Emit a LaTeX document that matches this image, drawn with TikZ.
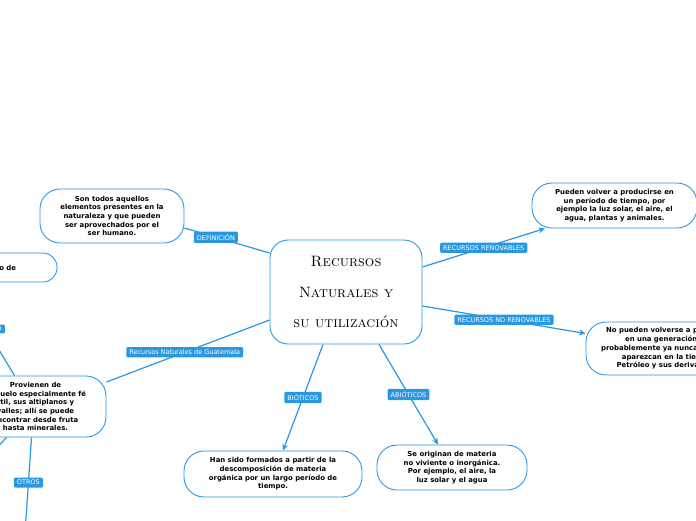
\documentclass[tikz,border=0pt]{standalone}
\usepackage{fontspec}
\setsansfont{DejaVu Sans}
\usetikzlibrary{shapes,arrows,arrows.meta}
\definecolor{mmblue}{RGB}{41,152,225}

\begin{document}
\begin{tikzpicture}[x=1pt,y=-1pt]
\tikzset{
  idea/.style={draw=mmblue, line width=0.9pt, rounded corners=20pt, fill=white,
    align=center, inner sep=0pt,
    font=\sffamily\bfseries\fontsize{6.9}{8.7}\selectfont},
  tag/.style={fill=mmblue, text=white, rounded corners=1.2pt, inner xsep=3pt,
    inner ysep=2.6pt, font=\sffamily\fontsize{6.5}{7}\selectfont},
  link/.style={draw=mmblue, line width=1.2pt},
  arr/.style={link, -{Stealth[length=6.5pt,width=6pt]}}
}
\clip (0,0) rectangle (696,520);
\useasboundingbox (0,0) rectangle (696,520);

% ideas
\node[idea, minimum width=152pt, minimum height=104pt, rounded corners=18pt,
  font=\scshape\fontsize{15}{30.5}\selectfont] (topic) at (346,292)
  {Recursos\\Naturales y\\su utilización};
\node[idea, minimum width=144pt, minimum height=54pt] (def) at (112,216)
  {Son todos aquellos\\elementos presentes en la\\naturaleza y que pueden\\ser aprovechados por el\\ser humano.};
\node[idea, minimum width=165pt, minimum height=45pt] (renov) at (614.5,205.5)
  {Pueden volver a producirse en\\un período de tiempo, por\\ejemplo la luz solar, el aire, el\\agua, plantas y animales.};
\node[idea, minimum width=160pt, minimum height=53pt] (norenov) at (666,348.5)
  {No pueden volverse a producir\\en una generación, y\\probablemente ya nunca vuelvan\\aparezcan en la tierra.\\Petróleo y sus derivados.};
\node[idea, minimum width=178pt, minimum height=46pt] (bio) at (273,474)
  {Han sido formados a partir de la\\descomposición de materia\\orgánica por un largo período de\\tiempo.};
\node[idea, minimum width=150pt, minimum height=45pt] (abio) at (452,467.5)
  {Se originan de materia\\no viviente o inorgánica.\\Por ejemplo, el aire, la\\luz solar y el agua};
\node[idea, minimum width=141pt, minimum height=61pt] (prov) at (35.5,406.5)
  {Provienen de\\su suelo especialmente fé\\rtil, sus altiplanos y\\valles; allí se puede\\encontrar desde fruta\\hasta minerales.};
\node[idea, minimum width=157pt, minimum height=29pt, rounded corners=14pt,
  text width=75pt, align=right] (oddnode) at (-21.5,267.5) {o de\\{}};

\coordinate (offsw) at (-30,476);
\coordinate (offs) at (24.5,540);

% branches
\draw[link] ([yshift=39pt]topic.west) -- node[tag, pos=0.63] {DEFINICIÓN} ([yshift=-12pt]def.east);
\draw[arr] ([yshift=25pt]topic.east) -- node[tag] {RECURSOS RENOVABLES} ([xshift=-69.5pt]renov.south);
\draw[arr] ([yshift=-14pt]topic.east) -- node[tag] {RECURSOS NO RENOVABLES} ([yshift=15pt]norenov.west);
\draw[arr] ([xshift=-23pt]topic.south) -- node[tag] {BIÓTICOS} ([xshift=10pt]bio.north);
\draw[arr] ([xshift=33pt]topic.south) -- node[tag] {ABIÓTICOS} ([xshift=-14pt]abio.north);
\draw[link] ([yshift=-28pt]topic.west) -- node[tag, pos=0.52] {Recursos Naturales de Guatemala} ([yshift=24.5pt]prov.east);
\draw[link] ([xshift=-21pt]prov.north) -- node[tag, text width=31pt, align=right] {a} ([xshift=-20.5pt]oddnode.south);
\draw[link] ([xshift=-29pt]prov.south) -- (offsw);
\draw[link] ([xshift=-4pt]prov.south) -- node[tag, pos=0.44] {OTROS} (offs);
\end{tikzpicture}
\end{document}
